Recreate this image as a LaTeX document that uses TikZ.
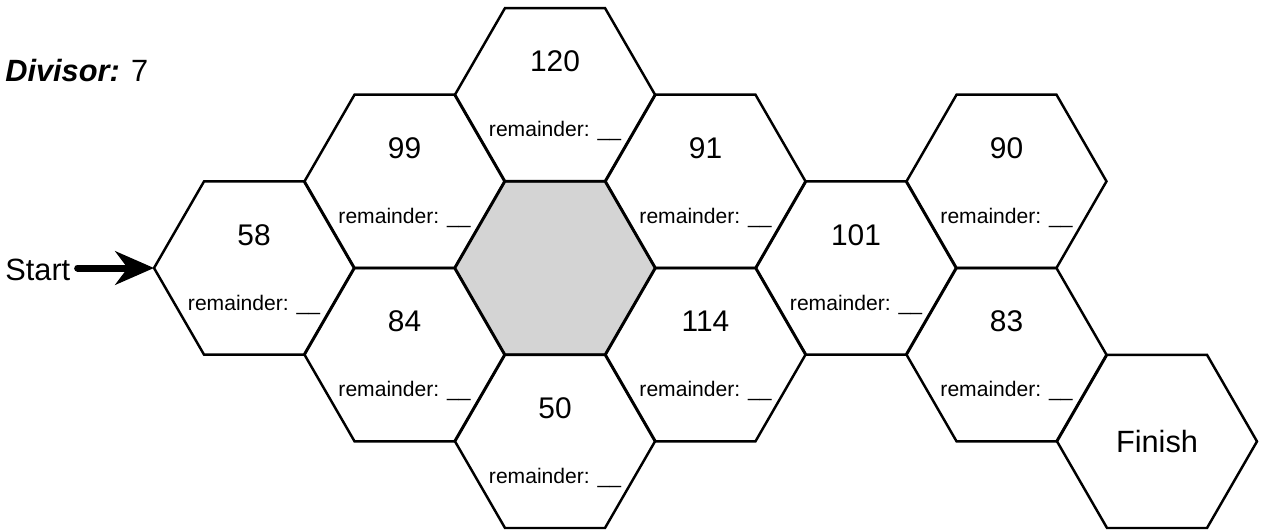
\documentclass[tikz,border=0pt]{standalone}
\usepackage{fontspec}
\setmainfont{Liberation Sans}
\usetikzlibrary{shapes.geometric,arrows.meta}
\newcommand\hexcell[4]{%
  \node[hexa] (#1) at (#2,#3) {};
  \node[numtxt] (#1-num) at (#2,#3-23) {#4};
  \node[remtxt] (#1-rem) at (#2,#3+42) {remainder: \_\_};
}
\begin{document}
\begin{tikzpicture}[x=0.02cm,y=-0.02cm,
  hexa/.style={regular polygon, regular polygon sides=6, minimum size=4cm,
    inner sep=0pt, outer sep=0pt, draw=black, line width=1.4pt},
  grayhex/.style={hexa, fill=black!17},
  numtxt/.style={anchor=base, inner sep=0pt, font=\fontsize{17}{20}\selectfont},
  remtxt/.style={anchor=base, inner sep=0pt, font=\fontsize{12}{14}\selectfont},
  bigtxt/.style={inner sep=0pt, font=\fontsize{17.5}{20}\selectfont},
  startarrow/.style={line width=4pt, line cap=round,
    -{Stealth[length=22pt,width=19pt,inset=7pt]}}
]
\useasboundingbox (0,0) rectangle (1266,529);

% hexagon grid
\hexcell{h58}{254}{268}{58}
\hexcell{h99}{404.5}{181.3}{99}
\hexcell{h84}{404.5}{354.7}{84}
\node[grayhex] (hg) at (555,268) {};
\hexcell{h120}{555}{94.6}{120}
\hexcell{h50}{555}{441.4}{50}
\hexcell{h91}{705.5}{181.3}{91}
\hexcell{h114}{705.5}{354.7}{114}
\hexcell{h101}{856}{268}{101}
\hexcell{h90}{1006.5}{181.3}{90}
\hexcell{h83}{1006.5}{354.7}{83}
\node[hexa] (hfin) at (1157,441.4) {};
\node[bigtxt] (hfin-txt) at (hfin.center) {Finish};

% title
\node[bigtxt, anchor=base west] (div) at (5,81.5) {\textbf{\textit{Divisor:}} 7};

% start arrow
\node[bigtxt, anchor=base west] (start) at (5,280) {Start};
\coordinate (astart) at ([xshift=4pt]start.east);
\draw[startarrow] (astart |- h58.west) -- (h58.west);
\end{tikzpicture}
\end{document}
